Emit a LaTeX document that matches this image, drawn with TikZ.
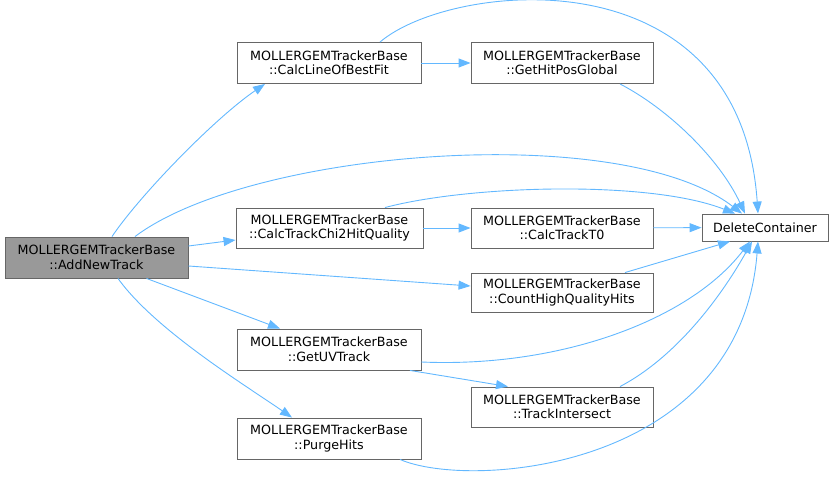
\documentclass[tikz,border=0pt]{standalone}
\usepackage{fontspec}
\setmainfont{DejaVu Sans}
\usetikzlibrary{arrows.meta,positioning}
\definecolor{edgeblue}{HTML}{63B8FF}
\definecolor{boxgray}{HTML}{666666}
\definecolor{rootgray}{HTML}{999999}
\tikzset{
  fn/.style={draw=boxgray, fill=white, line width=0.9pt, minimum width=184pt,
    minimum height=41pt, inner sep=2pt, align=center,
    font=\fontsize{12.7}{14.5}\selectfont},
  rootfn/.style={fn, fill=rootgray},
  leaf/.style={fn, minimum width=126pt, minimum height=27pt},
  call/.style={-{Triangle[length=12pt,width=9pt]}, line width=0.9pt, color=edgeblue},
}

\begin{document}
\begin{tikzpicture}[x=1pt,y=-1pt]
  \useasboundingbox (0,0) rectangle (835,478);
  % functions
  \node[rootfn, minimum width=183pt] (add) at (96.5,257.5) {MOLLERGEMTrackerBase\\::AddNewTrack};
  \node[fn] (fit) at (329,63) {MOLLERGEMTrackerBase\\::CalcLineOfBestFit};
  \node[fn, minimum width=182pt] (hitpos) at (562,63) {MOLLERGEMTrackerBase\\::GetHitPosGlobal};
  \node[fn, minimum width=187pt, minimum height=40pt] (chi2) at (329.5,228) {MOLLERGEMTrackerBase\\::CalcTrackChi2HitQuality};
  \node[fn, minimum width=182pt, minimum height=40pt] (t0) at (562,228) {MOLLERGEMTrackerBase\\::CalcTrackT0};
  \node[leaf] (del) at (765,227.5) {DeleteContainer};
  \node[fn, minimum width=182pt, minimum height=39pt] (count) at (562,292.5) {MOLLERGEMTrackerBase\\::CountHighQualityHits};
  \node[fn] (uv) at (329,349.5) {MOLLERGEMTrackerBase\\::GetUVTrack};
  \node[fn, minimum width=182pt, minimum height=40pt] (isect) at (562,407) {MOLLERGEMTrackerBase\\::TrackIntersect};
  \node[fn] (purge) at (329,438.5) {MOLLERGEMTrackerBase\\::PurgeHits};
  % calls from AddNewTrack
  \draw[call] ([xshift=15.5pt]add.north) .. controls (140,195) and (215,118) .. ([xshift=-64pt]fit.south);
  \draw[call] ([xshift=38.5pt]add.north) .. controls (250,150) and (620,120) .. ([xshift=-23pt]del.north);
  \draw[call] ([yshift=11.5pt]add.east) -- ([yshift=-12pt]chi2.west);
  \draw[call] ([yshift=-8.5pt]add.east) -- ([yshift=6.5pt]count.west);
  \draw[call] ([xshift=50pt]add.south) -- ([xshift=-49pt]uv.north);
  \draw[call] ([xshift=21.5pt]add.south) .. controls (155,330) and (245,385) .. ([xshift=-37pt]purge.north);
  % second level
  \draw[call] (fit) -- (hitpos);
  \draw[call] ([xshift=51pt]fit.north) .. controls (450,-18) and (740,-50) .. ([xshift=-7pt]del.north);
  \draw[call] ([xshift=58pt]hitpos.south) .. controls (670,110) and (720,160) .. ([xshift=-20pt]del.north);
  \draw[call] (chi2) -- (t0);
  \draw[call] ([xshift=55.5pt]chi2.north) .. controls (470,185) and (650,180) .. ([xshift=-30pt]del.north);
  \draw[call] (t0) -- (del);
  \draw[call] ([xshift=63pt]count.north) -- ([xshift=-35pt]del.south);
  \draw[call] ([yshift=-12.5pt]uv.east) .. controls (560,368) and (690,320) .. ([xshift=-15pt]del.south);
  \draw[call] ([xshift=81pt]uv.south) -- ([xshift=-54pt]isect.north);
  \draw[call] ([xshift=58pt]isect.north) .. controls (680,355) and (725,290) .. ([xshift=-13pt]del.south);
  \draw[call] ([xshift=71pt]purge.south) .. controls (470,490) and (740,470) .. ([xshift=-7pt]del.south);
\end{tikzpicture}
\end{document}
